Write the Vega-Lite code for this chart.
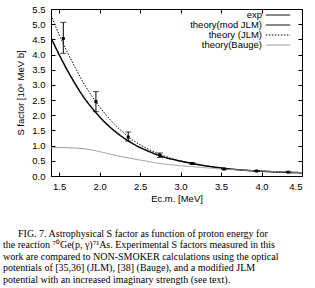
{
  "$schema": "https://vega.github.io/schema/vega-lite/v6.json",
  "autosize": "none",
  "width": 251,
  "height": 167,
  "padding": {"left": 51, "top": 9, "right": 13, "bottom": 112},
  "background": "white",
  "config": {
    "view": {"stroke": "black", "strokeWidth": 1},
    "axis": {
      "labelFont": "Liberation Sans", "labelFontSize": 9.5, "labelColor": "black",
      "titleFont": "Liberation Sans", "titleFontSize": 9.5, "titleFontWeight": "normal", "titleColor": "black",
      "domainColor": "black", "tickColor": "black", "tickSize": -4, "grid": false
    },
    "legend": {"labelFont": "Liberation Sans", "labelFontSize": 9.5, "labelColor": "black"}
  },
  "title": {
    "text": [
      "\u200b\u2003\u2002FIG. 7. Astrophysical S factor as function of proton energy for",
      "the reaction \u2077\u2070Ge(p, \u03b3)\u2077\u00b9As. Experimental S factors measured in this",
      "work are compared to NON-SMOKER calculations using the optical",
      "potentials of [35,36] (JLM), [38] (Bauge), and a modified JLM",
      "potential with an increased imaginary strength (see text)."
    ],
    "orient": "bottom", "anchor": "start", "frame": "group", "dx": -48, "offset": 26,
    "font": "Liberation Serif", "fontSize": 10, "fontWeight": "normal", "lineHeight": 11.4, "color": "black"
  },
  "datasets": {
    "theory": [
      {"e": 1.4, "s": 4.55, "series": "theory(mod JLM)"},
      {"e": 1.5, "s": 4.0, "series": "theory(mod JLM)"},
      {"e": 1.6, "s": 3.49, "series": "theory(mod JLM)"},
      {"e": 1.7, "s": 3.03, "series": "theory(mod JLM)"},
      {"e": 1.8, "s": 2.61, "series": "theory(mod JLM)"},
      {"e": 1.9, "s": 2.26, "series": "theory(mod JLM)"},
      {"e": 2.0, "s": 1.95, "series": "theory(mod JLM)"},
      {"e": 2.1, "s": 1.68, "series": "theory(mod JLM)"},
      {"e": 2.2, "s": 1.45, "series": "theory(mod JLM)"},
      {"e": 2.3, "s": 1.25, "series": "theory(mod JLM)"},
      {"e": 2.4, "s": 1.08, "series": "theory(mod JLM)"},
      {"e": 2.5, "s": 0.94, "series": "theory(mod JLM)"},
      {"e": 2.6, "s": 0.82, "series": "theory(mod JLM)"},
      {"e": 2.7, "s": 0.71, "series": "theory(mod JLM)"},
      {"e": 2.8, "s": 0.62, "series": "theory(mod JLM)"},
      {"e": 2.9, "s": 0.55, "series": "theory(mod JLM)"},
      {"e": 3.0, "s": 0.49, "series": "theory(mod JLM)"},
      {"e": 3.1, "s": 0.435, "series": "theory(mod JLM)"},
      {"e": 3.2, "s": 0.385, "series": "theory(mod JLM)"},
      {"e": 3.3, "s": 0.34, "series": "theory(mod JLM)"},
      {"e": 3.4, "s": 0.3, "series": "theory(mod JLM)"},
      {"e": 3.5, "s": 0.265, "series": "theory(mod JLM)"},
      {"e": 3.6, "s": 0.235, "series": "theory(mod JLM)"},
      {"e": 3.8, "s": 0.19, "series": "theory(mod JLM)"},
      {"e": 4.0, "s": 0.16, "series": "theory(mod JLM)"},
      {"e": 4.2, "s": 0.135, "series": "theory(mod JLM)"},
      {"e": 4.4, "s": 0.115, "series": "theory(mod JLM)"},
      {"e": 4.5, "s": 0.108, "series": "theory(mod JLM)"},
      {"e": 1.4, "s": 5.3, "series": "theory (JLM)"},
      {"e": 1.5, "s": 4.66, "series": "theory (JLM)"},
      {"e": 1.6, "s": 4.09, "series": "theory (JLM)"},
      {"e": 1.7, "s": 3.57, "series": "theory (JLM)"},
      {"e": 1.8, "s": 3.07, "series": "theory (JLM)"},
      {"e": 1.9, "s": 2.65, "series": "theory (JLM)"},
      {"e": 2.0, "s": 2.28, "series": "theory (JLM)"},
      {"e": 2.1, "s": 1.95, "series": "theory (JLM)"},
      {"e": 2.2, "s": 1.66, "series": "theory (JLM)"},
      {"e": 2.3, "s": 1.42, "series": "theory (JLM)"},
      {"e": 2.4, "s": 1.2, "series": "theory (JLM)"},
      {"e": 2.5, "s": 1.03, "series": "theory (JLM)"},
      {"e": 2.6, "s": 0.885, "series": "theory (JLM)"},
      {"e": 2.7, "s": 0.76, "series": "theory (JLM)"},
      {"e": 2.8, "s": 0.66, "series": "theory (JLM)"},
      {"e": 2.9, "s": 0.57, "series": "theory (JLM)"},
      {"e": 3.0, "s": 0.5, "series": "theory (JLM)"},
      {"e": 3.1, "s": 0.44, "series": "theory (JLM)"},
      {"e": 3.2, "s": 0.385, "series": "theory (JLM)"},
      {"e": 3.3, "s": 0.335, "series": "theory (JLM)"},
      {"e": 3.4, "s": 0.295, "series": "theory (JLM)"},
      {"e": 3.5, "s": 0.26, "series": "theory (JLM)"},
      {"e": 3.6, "s": 0.23, "series": "theory (JLM)"},
      {"e": 3.8, "s": 0.183, "series": "theory (JLM)"},
      {"e": 4.0, "s": 0.15, "series": "theory (JLM)"},
      {"e": 4.2, "s": 0.125, "series": "theory (JLM)"},
      {"e": 4.4, "s": 0.107, "series": "theory (JLM)"},
      {"e": 4.5, "s": 0.1, "series": "theory (JLM)"},
      {"e": 1.4, "s": 0.93, "series": "theory(Bauge)"},
      {"e": 1.5, "s": 0.935, "series": "theory(Bauge)"},
      {"e": 1.6, "s": 0.93, "series": "theory(Bauge)"},
      {"e": 1.7, "s": 0.92, "series": "theory(Bauge)"},
      {"e": 1.8, "s": 0.9, "series": "theory(Bauge)"},
      {"e": 1.9, "s": 0.86, "series": "theory(Bauge)"},
      {"e": 2.0, "s": 0.8, "series": "theory(Bauge)"},
      {"e": 2.1, "s": 0.74, "series": "theory(Bauge)"},
      {"e": 2.2, "s": 0.68, "series": "theory(Bauge)"},
      {"e": 2.3, "s": 0.625, "series": "theory(Bauge)"},
      {"e": 2.4, "s": 0.575, "series": "theory(Bauge)"},
      {"e": 2.5, "s": 0.525, "series": "theory(Bauge)"},
      {"e": 2.6, "s": 0.48, "series": "theory(Bauge)"},
      {"e": 2.7, "s": 0.43, "series": "theory(Bauge)"},
      {"e": 2.8, "s": 0.395, "series": "theory(Bauge)"},
      {"e": 3.0, "s": 0.34, "series": "theory(Bauge)"},
      {"e": 3.2, "s": 0.295, "series": "theory(Bauge)"},
      {"e": 3.4, "s": 0.255, "series": "theory(Bauge)"},
      {"e": 3.6, "s": 0.22, "series": "theory(Bauge)"},
      {"e": 3.8, "s": 0.19, "series": "theory(Bauge)"},
      {"e": 4.0, "s": 0.165, "series": "theory(Bauge)"},
      {"e": 4.2, "s": 0.14, "series": "theory(Bauge)"},
      {"e": 4.5, "s": 0.11, "series": "theory(Bauge)"}
    ],
    "exp": [
      {"e": 1.552, "s": 4.53, "lo": 4.04, "hi": 5.06, "series": "exp"},
      {"e": 1.955, "s": 2.45, "lo": 2.12, "hi": 2.78, "series": "exp"},
      {"e": 2.354, "s": 1.28, "lo": 1.15, "hi": 1.45, "series": "exp"},
      {"e": 2.745, "s": 0.68, "lo": 0.61, "hi": 0.76, "series": "exp"},
      {"e": 3.145, "s": 0.41, "lo": 0.38, "hi": 0.44, "series": "exp"},
      {"e": 3.536, "s": 0.23, "lo": 0.21, "hi": 0.25, "series": "exp"},
      {"e": 3.94, "s": 0.165, "lo": 0.15, "hi": 0.18, "series": "exp"},
      {"e": 4.33, "s": 0.125, "lo": 0.115, "hi": 0.135, "series": "exp"}
    ]
  },
  "resolve": {"axis": {"x": "independent", "y": "independent"}},
  "layer": [
    {
      "data": {"name": "theory"},
      "mark": {"type": "line", "interpolate": "monotone", "clip": true},
      "encoding": {
        "x": {"field": "e", "type": "quantitative", "scale": {"domain": [1.4, 4.5], "nice": false, "zero": false},
              "axis": {"orient": "bottom", "values": [1.5, 2, 2.5, 3, 3.5, 4, 4.5], "title": "Ec.m. [MeV]", "labelPadding": 9, "titlePadding": 3}},
        "y": {"field": "s", "type": "quantitative", "scale": {"domain": [0, 5.5], "nice": false},
              "axis": {"orient": "left", "values": [0, 0.5, 1, 1.5, 2, 2.5, 3, 3.5, 4, 4.5, 5, 5.5], "title": "S factor [10\u2076 MeV b]", "labelPadding": 10, "titlePadding": 6}},
        "color": {"field": "series", "type": "nominal",
                  "scale": {"domain": ["exp", "theory(mod JLM)", "theory (JLM)", "theory(Bauge)"], "range": ["black", "black", "black", "#999999"]},
                  "legend": {"title": null, "orient": "none", "legendX": 222, "legendY": 1, "symbolType": "M-2.7,0H2.7", "symbolSize": 81, "symbolStrokeWidth": 1, "labelAlign": "right", "labelOffset": -21, "rowPadding": 0, "padding": 0}},
        "strokeDash": {"field": "series", "type": "nominal",
                       "scale": {"domain": ["exp", "theory(mod JLM)", "theory (JLM)", "theory(Bauge)"], "range": [[1, 0], [1, 0], [1.5, 1.5], [1, 0]]},
                       "legend": {"title": null, "orient": "none", "legendX": 222, "legendY": 1, "symbolType": "M-2.7,0H2.7", "symbolSize": 81, "symbolStrokeWidth": 1, "labelAlign": "right", "labelOffset": -21, "rowPadding": 0, "padding": 0}},
        "strokeWidth": {"condition": {"test": "datum.series === 'theory(mod JLM)'", "value": 1.5}, "value": 1}
      }
    },
    {
      "data": {"name": "exp"},
      "mark": {"type": "rule", "color": "black", "strokeWidth": 1},
      "encoding": {
        "x": {"field": "e", "type": "quantitative", "axis": {"orient": "top", "labels": false, "title": null, "values": [1.5, 2, 2.5, 3, 3.5, 4, 4.5]}},
        "y": {"field": "lo", "type": "quantitative", "axis": {"orient": "right", "labels": false, "title": null, "values": [0, 0.5, 1, 1.5, 2, 2.5, 3, 3.5, 4, 4.5, 5, 5.5]}},
        "y2": {"field": "hi"}
      }
    },
    {
      "data": {"name": "exp"},
      "mark": {"type": "tick", "orient": "horizontal", "color": "black", "size": 6, "thickness": 1},
      "encoding": {
        "x": {"field": "e", "type": "quantitative", "axis": null},
        "y": {"field": "lo", "type": "quantitative", "axis": null}
      }
    },
    {
      "data": {"name": "exp"},
      "mark": {"type": "tick", "orient": "horizontal", "color": "black", "size": 6, "thickness": 1},
      "encoding": {
        "x": {"field": "e", "type": "quantitative", "axis": null},
        "y": {"field": "hi", "type": "quantitative", "axis": null}
      }
    },
    {
      "data": {"name": "exp"},
      "mark": {"type": "square", "color": "black", "filled": true, "size": 9, "opacity": 1},
      "encoding": {
        "x": {"field": "e", "type": "quantitative", "axis": null},
        "y": {"field": "s", "type": "quantitative", "axis": null}
      }
    }
  ]
}
